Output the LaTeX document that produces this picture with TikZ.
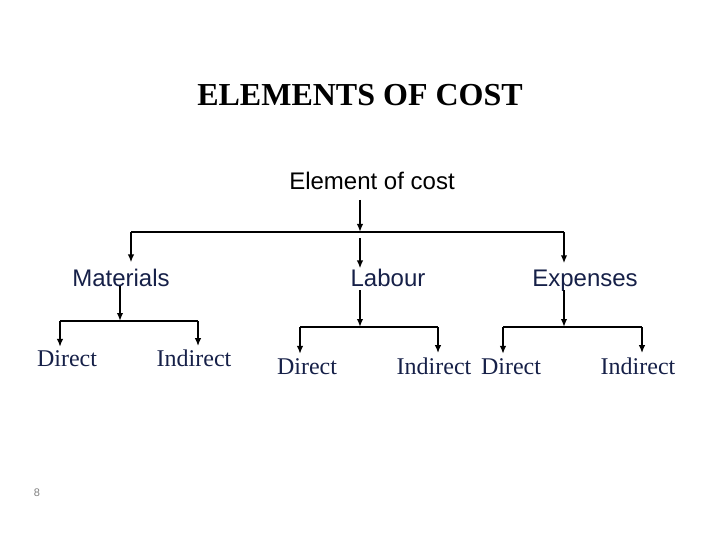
\documentclass[tikz,border=0pt]{standalone}
\usepackage{fontspec}
\setmainfont{Liberation Serif}
\newfontfamily\arialfont{Liberation Sans}
\usepackage{xcolor}
\usepackage{tikz}
\usetikzlibrary{arrows.meta, positioning}
\definecolor{navy}{RGB}{22,32,72}

\begin{document}
\begin{tikzpicture}[x=1pt, y=-1pt, >={Latex[length=8pt,width=6.5pt]},
  head/.style={font=\arialfont\fontsize{24}{28}\selectfont, text=navy, inner sep=0pt, anchor=base},
  leaf/.style={font=\fontsize{24}{28}\selectfont, text=navy, inner sep=0pt, anchor=base},
  arr/.style={->, line width=2.2pt},
  bar/.style={line width=1.5pt}]
\useasboundingbox (0,0) rectangle (720,540);

% headings
\node (title) [anchor=base, inner sep=0pt, font=\bfseries\fontsize{32}{38}\selectfont] at (360,106) {ELEMENTS OF COST};
\node (elem) [anchor=base, inner sep=0pt, font=\arialfont\fontsize{24}{28}\selectfont] at (372,190) {Element of cost};

% first level
\node (mat) [head] at (121,286) {Materials};
\node (lab) [head] at (388,286) {Labour};
\node (exp) [head] at (585,286) {Expenses};

% second level
\node (mdir) [leaf] at (67,366) {Direct};
\node (mind) [leaf] at (194,366) {Indirect};
\node (ldir) [leaf] at (307,374) {Direct};
\node (lind) [leaf] at (434,374) {Indirect};
\node (edir) [leaf] at (511,374) {Direct};
\node (eind) [leaf] at (638,374) {Indirect};

\node (page) [anchor=base, inner sep=0pt, text=gray, font=\arialfont\fontsize{11}{12}\selectfont] at (37,496) {8};

% junctions
\coordinate (top) at (360,232);
\coordinate (topl) at (131,232);
\coordinate (topr) at (564,232);
\coordinate (mj) at (120,321);
\coordinate (mjl) at (60,321);
\coordinate (mjr) at (198,321);
\coordinate (lj) at (360,327);
\coordinate (ljl) at (300,327);
\coordinate (ljr) at (438,327);
\coordinate (ej) at (564,327);
\coordinate (ejl) at (503,327);
\coordinate (ejr) at (642,327);

% element of cost
\draw[arr] (elem.base -| top) ++(0,10) -- (top);
\draw[bar] (topl) -- (topr);
\draw[arr] (topl) -- ([yshift=6pt]mat.north -| topl);
\draw[arr] (top) ++(0,6) -- (lab.north -| top);
\draw[arr] (topr) -- ([yshift=6pt]exp.north -| topr);

% materials
\draw[arr] (mat.base -| mj) -- (mj);
\draw[bar] (mjl) -- (mjr);
\draw[arr] (mjl) -- ([yshift=3pt]mdir.north -| mjl);
\draw[arr] (mjr) -- ([yshift=3pt]mind.north -| mjr);

% labour
\draw[arr] (lab.base -| lj) ++(0,4) -- (lj);
\draw[bar] (ljl) -- (ljr);
\draw[arr] (ljl) -- ([yshift=4pt]ldir.north -| ljl);
\draw[arr] (ljr) -- ([yshift=4pt]lind.north -| ljr);

% expenses
\draw[arr] (exp.base -| ej) ++(0,4) -- (ej);
\draw[bar] (ejl) -- (ejr);
\draw[arr] (ejl) -- ([yshift=4pt]edir.north -| ejl);
\draw[arr] (ejr) -- ([yshift=4pt]eind.north -| ejr);
\end{tikzpicture}
\end{document}
